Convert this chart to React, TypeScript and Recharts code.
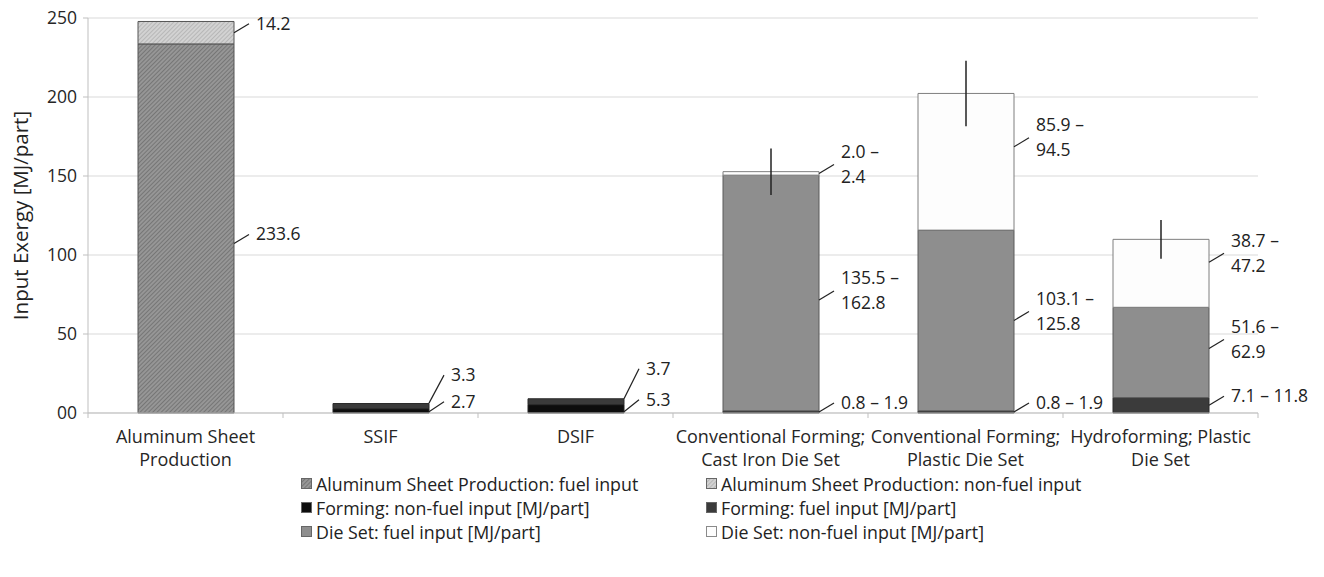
import React from "react";
import { BarChart, Bar, XAxis, YAxis, CartesianGrid, Legend, LabelList, ErrorBar, Label } from "recharts";

const FONT = "'Open Sans', Lato, sans-serif";

// ---------- data ----------
const categories = [
  "Aluminum Sheet Production",
  "SSIF",
  "DSIF",
  "Conventional Forming; Cast Iron Die Set",
  "Conventional Forming; Plastic Die Set",
  "Hydroforming; Plastic Die Set",
];
const categoryLines = [
  ["Aluminum Sheet", "Production"],
  ["SSIF"],
  ["DSIF"],
  ["Conventional Forming;", "Cast Iron Die Set"],
  ["Conventional Forming;", "Plastic Die Set"],
  ["Hydroforming; Plastic", "Die Set"],
];

const alFuel = [233.6, 0, 0, 0, 0, 0];
const alNonFuel = [14.2, 0, 0, 0, 0, 0];
const formNonFuel = [0, 2.7, 5.3, 0, 0, 0];
const formFuel = [0, 3.3, 3.7, 1.35, 1.35, 9.7];
const dieFuel = [0, 0, 0, 149.2, 114.4, 57.2];
const dieNonFuel = [0, 0, 0, 2.2, 86.5, 43.0];
const totalError = [0, 0, 0, 14.7, 20.7, 12.3];

const alFuelLabels = ["233.6", "", "", "", "", ""];
const alNonFuelLabels = ["14.2", "", "", "", "", ""];
const formNonFuelLabels = ["", "2.7", "5.3", "", "", ""];
const formFuelLabels = ["", "3.3", "3.7", "0.8 – 1.9", "0.8 – 1.9", "7.1 – 11.8"];
const dieFuelLabels = ["", "", "", "135.5 –\n162.8", "103.1 –\n125.8", "51.6 –\n62.9"];
const dieNonFuelLabels = ["", "", "", "2.0 –\n2.4", "85.9 –\n94.5", "38.7 –\n47.2"];

const yTicks = [0, 50, 100, 150, 200, 250];
const yTickLabels = ["00", "50", "100", "150", "200", "250"];

const data = categories.map((name, i) => ({
  name,
  alFuel: alFuel[i],
  alNonFuel: alNonFuel[i],
  formNonFuel: formNonFuel[i],
  formFuel: formFuel[i],
  dieFuel: dieFuel[i],
  dieNonFuel: dieNonFuel[i],
  err: totalError[i],
}));

// ---------- style ----------
const SERIES = [
  { key: "alFuel", name: "Aluminum Sheet Production: fuel input", fill: "url(#patAlFuel)", stroke: "#555", labels: alFuelLabels },
  { key: "alNonFuel", name: "Aluminum Sheet Production: non-fuel input", fill: "url(#patAlNon)", stroke: "#555", labels: alNonFuelLabels },
  { key: "formNonFuel", name: "Forming: non-fuel input [MJ/part]", fill: "#0d0d0d", stroke: "#222", labels: formNonFuelLabels },
  { key: "formFuel", name: "Forming: fuel input [MJ/part]", fill: "#3b3b3b", stroke: "#2a2a2a", labels: formFuelLabels },
  { key: "dieFuel", name: "Die Set: fuel input [MJ/part]", fill: "#8e8e8e", stroke: "#5a5a5a", labels: dieFuelLabels },
  { key: "dieNonFuel", name: "Die Set: non-fuel input [MJ/part]", fill: "#fdfdfd", stroke: "#7f7f7f", labels: dieNonFuelLabels },
];

// leader-line nudges (styling only)
const LABEL_NUDGE: Record<string, { dy?: number; rise?: number }> = {
  "alFuel:0": { dy: 15 },
  "formNonFuel:1": { dy: 1, rise: 10 },
  "formNonFuel:2": { dy: 3, rise: 12 },
  "formFuel:1": { dy: -3, rise: 28 },
  "formFuel:2": { dy: -3, rise: 30 },
  "dieFuel:3": { dy: 7 },
  "dieFuel:5": { dy: -4 },
  "dieNonFuel:4": { dy: -15 },
  "dieNonFuel:5": { dy: -11 },
};

const PLOT_W = 1170;
const HALF = PLOT_W / categories.length / 2;

const labelKey = (labels: string[]) => (entry: any) => {
  const i = categories.indexOf(entry && entry.name);
  return i >= 0 ? `${i}|${labels[i]}` : "";
};

const makeLabel = (seriesKey: string) => (props: any) => {
  const raw = String(props.value ?? "");
  const sep = raw.indexOf("|");
  if (sep < 0) return null;
  const i = Number(raw.slice(0, sep));
  const text = raw.slice(sep + 1);
  if (!text) return null;
  const vb = props.viewBox && props.viewBox.width != null ? props.viewBox : props;
  const x = Number(vb.x), y = Number(vb.y), w = Number(vb.width), h = Number(vb.height);
  const n = LABEL_NUDGE[`${seriesKey}:${i}`] || {};
  const x0 = x + w;
  const y0 = y + h / 2 + (n.dy || 0);
  const rise = n.rise ?? 9;
  const x1 = x0 + 15;
  const y1 = y0 - rise;
  const lines = text.split("\n");
  const lh = 25;
  const cy = y1 - 1;
  const startY = cy - ((lines.length - 1) * lh) / 2;
  return (
    <g>
      <line x1={x0} y1={y0} x2={x1} y2={y1} stroke="#222" strokeWidth={1.2} />
      {lines.map((l, k) => (
        <text key={k} x={x0 + 22} y={startY + k * lh} fontSize={17.5} fill="#222" fontFamily={FONT} dominantBaseline="central">
          {l}
        </text>
      ))}
    </g>
  );
};

const XTick = (props: any) => {
  const { x, y, index } = props;
  const lines = categoryLines[index] || [];
  return (
    <g>
      <line x1={x - HALF} y1={y} x2={x - HALF} y2={y + 5} stroke="#bfbfbf" />
      {index === categories.length - 1 && <line x1={x + HALF} y1={y} x2={x + HALF} y2={y + 5} stroke="#bfbfbf" />}
      {lines.map((l, k) => (
        <text key={k} x={x} y={y + 23 + k * 23} textAnchor="middle" dominantBaseline="central" fontSize={18} fill="#262626" fontFamily={FONT}>
          {l}
        </text>
      ))}
    </g>
  );
};

const LegendBox = () => (
  <div
    style={{
      display: "grid",
      gridTemplateColumns: "405px 405px",
      rowGap: 6,
      fontFamily: FONT,
      fontSize: 17.8,
      color: "#222",
    }}
  >
    {SERIES.map((s) => (
      <div key={s.key} style={{ display: "flex", alignItems: "center", height: 18, whiteSpace: "nowrap" }}>
        <svg width={12} height={12} style={{ marginRight: 3 }}>
          <rect x={0.5} y={0.5} width={10} height={10} fill={s.fill} stroke={s.stroke === "#7f7f7f" ? "#8a8a8a" : "#666"} />
        </svg>
        <span>{s.name}</span>
      </div>
    ))}
  </div>
);

export default function App() {
  return (
    <div style={{ position: "absolute", left: 0, top: 0, width: 1324, height: 577, background: "#fff" }}>
      <BarChart
        width={1324}
        height={577}
        data={data}
        margin={{ top: 18, right: 66, left: 28, bottom: 104 }}
        barSize={96}
      >
        <defs>
          <pattern id="patAlFuel" width="3" height="3" patternUnits="userSpaceOnUse" patternTransform="rotate(45)">
            <rect width="3" height="3" fill="#969696" />
            <line x1="0" y1="0" x2="0" y2="3" stroke="#6e6e6e" strokeWidth="1.6" />
          </pattern>
          <pattern id="patAlNon" width="3" height="3" patternUnits="userSpaceOnUse" patternTransform="rotate(45)">
            <rect width="3" height="3" fill="#d2d2d2" />
            <line x1="0" y1="0" x2="0" y2="3" stroke="#b0b0b0" strokeWidth="1.6" />
          </pattern>
        </defs>
        <CartesianGrid vertical={false} stroke="#d9d9d9" />
        <XAxis
          dataKey="name"
          height={60}
          tick={<XTick />}
          tickLine={false}
          tickSize={0}
          tickMargin={0}
          interval={0}
          axisLine={{ stroke: "#bfbfbf" }}
        />
        <YAxis
          width={60}
          domain={[0, 250]}
          ticks={yTicks}
          interval={0}
          tickFormatter={(v: number) => yTickLabels[yTicks.indexOf(v)] ?? String(v)}
          tick={{ fontSize: 17.5, fill: "#262626", fontFamily: FONT }}
          tickSize={5}
          tickMargin={6}
          tickLine={{ stroke: "#bfbfbf" }}
          axisLine={{ stroke: "#bfbfbf" }}
        >
          <Label
            content={(p: any) => {
              const vb = p.viewBox || { x: 28, y: 18, height: 395 };
              const cx = vb.x - 8;
              const cy = vb.y + vb.height / 2;
              return (
                <text x={cx} y={cy} transform={`rotate(-90 ${cx} ${cy})`} textAnchor="middle" dominantBaseline="central" fontSize={20.5} fill="#222" fontFamily={FONT}>
                  Input Exergy [MJ/part]
                </text>
              );
            }}
          />
        </YAxis>
        <Legend
          layout="horizontal"
          verticalAlign="middle"
          align="center"
          content={<LegendBox />}
          wrapperStyle={{ top: 475, left: 301, width: 820, height: 80 }}
        />
        {SERIES.map((s) => (
          <Bar
            key={s.key}
            dataKey={s.key}
            name={s.name}
            stackId="a"
            fill={s.fill}
            stroke={s.stroke}
            strokeWidth={1}
            isAnimationActive={false}
          >
            <LabelList dataKey={labelKey(s.labels)} content={makeLabel(s.key)} />
            {s.key === "dieNonFuel" && <ErrorBar dataKey="err" width={0} stroke="#222" strokeWidth={1.5} direction="y" />}
          </Bar>
        ))}
      </BarChart>
    </div>
  );
}
